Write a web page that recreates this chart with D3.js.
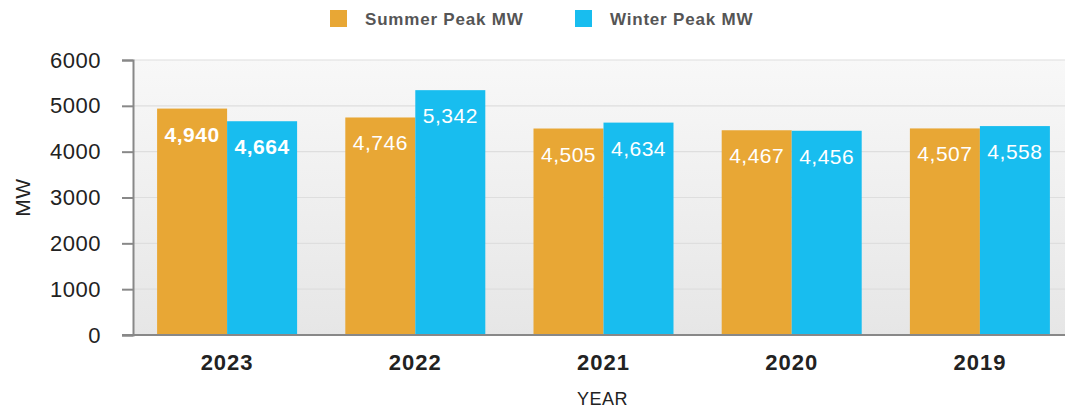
<!DOCTYPE html>
<html>
<head>
<meta charset="utf-8">
<script src="https://cdn.jsdelivr.net/npm/d3@7"></script>
<style>
  body { margin: 0; background: #fff; }
  svg { font-family: "Liberation Sans", Arial, sans-serif; }
</style>
</head>
<body>
<svg id="chart" width="1065" height="412"></svg>
<script>
var years = ["2023", "2022", "2021", "2020", "2019"];
var summerPeak = [4940, 4746, 4505, 4467, 4507];
var winterPeak = [4664, 5342, 4634, 4456, 4558];
var yTicks = [0, 1000, 2000, 3000, 4000, 5000, 6000];
var seriesNames = ["Summer Peak MW", "Winter Peak MW"];
var colors = ["#E8A735", "#18BDEF"];

var svg = d3.select("#chart"),
    margin = {top: 60, right: -9, bottom: 77, left: 133},
    w = +svg.attr("width") - margin.left - margin.right,
    h = +svg.attr("height") - margin.top - margin.bottom;

var x = d3.scaleBand().domain(years).range([0, w]).paddingInner(0).paddingOuter(0);
var x1 = d3.scaleBand().domain([0, 1]).range([x.bandwidth() / 2 - 70, x.bandwidth() / 2 + 70]);
var y = d3.scaleLinear().domain([0, 6000]).range([h, 0]);

var defs = svg.append("defs");
var grad = defs.append("linearGradient").attr("id", "bg")
    .attr("x1", 0).attr("y1", 0).attr("x2", 0).attr("y2", 1);
grad.append("stop").attr("offset", "0%").attr("stop-color", "#f8f8f8");
grad.append("stop").attr("offset", "100%").attr("stop-color", "#e6e6e6");

var g = svg.append("g")
    .attr("transform", "translate(" + margin.left + "," + margin.top + ")");

g.append("rect")
    .attr("x", 0).attr("y", 0)
    .attr("width", w).attr("height", h)
    .attr("fill", "url(#bg)");

// grid
g.selectAll(".grid")
    .data(yTicks.filter(function(d) { return d > 0; }))
  .enter().append("line")
    .attr("x1", 0).attr("x2", w)
    .attr("y1", function(d) { return y(d); })
    .attr("y2", function(d) { return y(d); })
    .attr("stroke", "#dedede")
    .attr("stroke-width", 1.2);

// bars
var data = years.map(function(yr, i) {
  return {year: yr, vals: [summerPeak[i], winterPeak[i]], bold: i === 0};
});

var groups = g.selectAll(".grp")
    .data(data)
  .enter().append("g")
    .attr("transform", function(d) { return "translate(" + x(d.year) + ",0)"; });

groups.selectAll("rect")
    .data(function(d) { return d.vals.map(function(v, k) { return {v: v, k: k, bold: d.bold}; }); })
  .enter().append("rect")
    .attr("x", function(d) { return x1(d.k); })
    .attr("width", x1.bandwidth())
    .attr("y", function(d) { return y(d.v); })
    .attr("height", function(d) { return h - y(d.v); })
    .attr("fill", function(d) { return colors[d.k]; });

groups.selectAll("text")
    .data(function(d) { return d.vals.map(function(v, k) { return {v: v, k: k, bold: d.bold}; }); })
  .enter().append("text")
    .attr("x", function(d) { return x1(d.k) + x1.bandwidth() / 2; })
    .attr("y", function(d) { return y(d.v) + 33; })
    .attr("text-anchor", "middle")
    .attr("fill", "#fff")
    .style("font-size", "21px")
    .style("letter-spacing", "0.5px")
    .style("font-weight", function(d) { return d.bold ? "bold" : "normal"; })
    .text(function(d) { return d3.format(",")(d.v); });

// axes
var yAxis = g.append("g")
    .call(d3.axisLeft(y).tickValues(yTicks).tickSize(11).tickPadding(21).tickFormat(d3.format("d")));
yAxis.select(".domain").attr("stroke", "#888").attr("stroke-width", 2);
yAxis.selectAll(".tick line").attr("stroke", "#888").attr("stroke-width", 2);
yAxis.selectAll("text")
    .style("font-size", "22px")
    .style("letter-spacing", "0.5px")
    .style("font-family", "'Liberation Sans', Arial, sans-serif")
    .attr("fill", "#222");

g.append("line")
    .attr("x1", -11).attr("x2", w)
    .attr("y1", h).attr("y2", h)
    .attr("stroke", "#888").attr("stroke-width", 2);

var xAxis = g.append("g")
    .attr("transform", "translate(0," + h + ")")
    .call(d3.axisBottom(x).tickSize(0).tickPadding(19));
xAxis.select(".domain").remove();
xAxis.selectAll("text")
    .style("font-size", "22px")
    .style("letter-spacing", "1px")
    .style("font-weight", "bold")
    .style("font-family", "'Liberation Sans', Arial, sans-serif")
    .attr("fill", "#222");

// axis titles
svg.append("text")
    .attr("transform", "translate(30," + (margin.top + h / 2) + ") rotate(-90)")
    .attr("text-anchor", "middle")
    .attr("fill", "#222")
    .style("font-size", "21px")
    .style("letter-spacing", "0.5px")
    .text("MW");

svg.append("text")
    .attr("x", margin.left + w / 2 - 1)
    .attr("y", 405)
    .attr("text-anchor", "middle")
    .attr("fill", "#222")
    .style("font-size", "18px")
    .style("letter-spacing", "0.5px")
    .text("YEAR");

// legend
var legendX = [330, 575];
var legend = svg.selectAll(".legend")
    .data(seriesNames)
  .enter().append("g")
    .attr("transform", function(d, i) { return "translate(" + legendX[i] + ",10)"; });

legend.append("rect")
    .attr("width", 17).attr("height", 17)
    .attr("fill", function(d, i) { return colors[i]; });

legend.append("text")
    .attr("x", 35).attr("y", 15)
    .attr("fill", "#555")
    .style("font-size", "17px")
    .style("letter-spacing", "0.8px")
    .style("font-weight", "bold")
    .text(function(d) { return d; });
</script>
</body>
</html>
